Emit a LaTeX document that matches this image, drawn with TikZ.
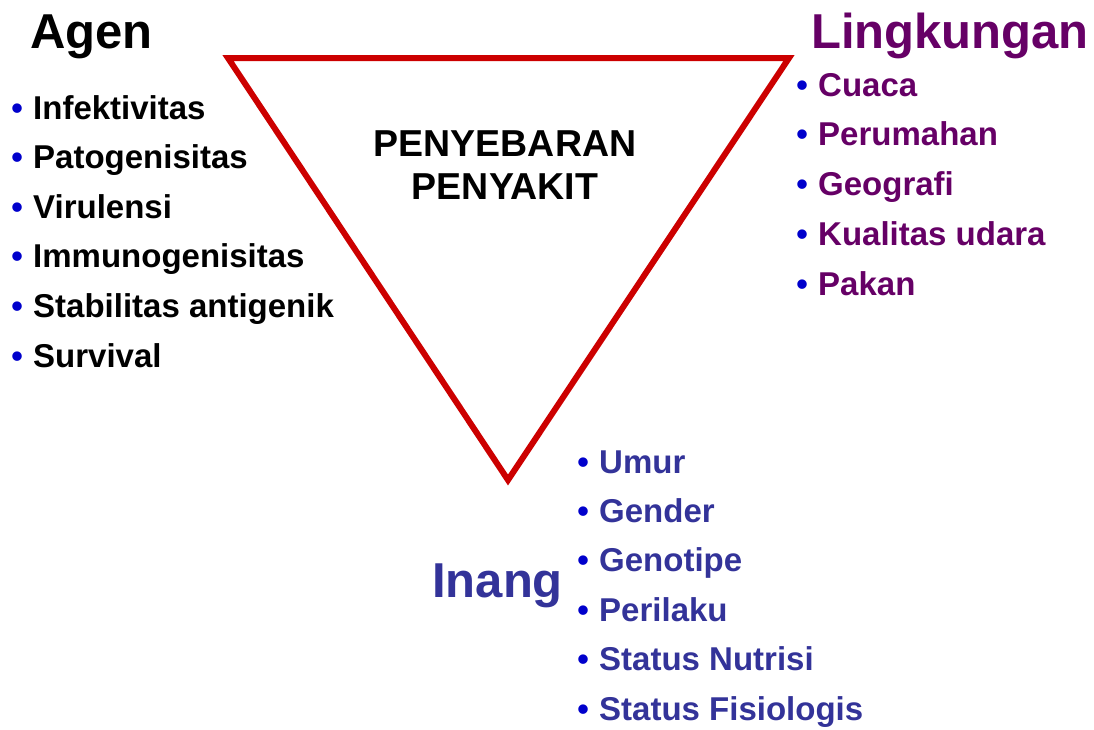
\documentclass[tikz,border=0pt]{standalone}
\usepackage{fontspec}
\setmainfont{Liberation Sans}
\definecolor{tri}{HTML}{CC0000}
\definecolor{lingk}{HTML}{660066}
\definecolor{inang}{HTML}{333399}
\definecolor{bblue}{HTML}{0000CC}
\newcommand\bul{\makebox[32pt][c]{\color{bblue}\textbullet}}
\tikzset{
  head/.style={anchor=base west, inner sep=0pt, font=\bfseries\fontsize{49}{50}\selectfont},
  item/.style={anchor=base west, inner sep=0pt, font=\bfseries\fontsize{33}{34}\selectfont},
  center/.style={inner sep=0pt, align=center, font=\bfseries\fontsize{37.5}{38}\selectfont},
  triline/.style={draw=tri, line width=6pt, line join=miter}
}
\begin{document}
\begin{tikzpicture}[x=1pt,y=-1pt]
\useasboundingbox (0,0) rectangle (1094,729);
% triangle
\coordinate (tl) at (228,58);
\coordinate (tr) at (789,58);
\coordinate (tb) at (508,480);
\draw[triline] (tl) -- (tr) -- (tb) -- cycle;
% center text
\node[center, anchor=base] (c1) at (505,156) {PENYEBARAN};
\node[center, anchor=base] (c2) at (505,199) {PENYAKIT};
% Agen
\node[head] (agen) at (30,48) {Agen};
\node[item] (a1) at (1,119) {\bul Infektivitas};
\node[item] (a2) at (1,168.6) {\bul Patogenisitas};
\node[item] (a3) at (1,218.2) {\bul Virulensi};
\node[item] (a4) at (1,267.8) {\bul Immunogenisitas};
\node[item] (a5) at (1,317.4) {\bul Stabilitas antigenik};
\node[item] (a6) at (1,367) {\bul Survival};
% Lingkungan
\node[head, text=lingk] (ling) at (811,48) {Lingkungan};
\node[item, text=lingk] (l1) at (786,96) {\bul Cuaca};
\node[item, text=lingk] (l2) at (786,145.8) {\bul Perumahan};
\node[item, text=lingk] (l3) at (786,195.6) {\bul Geografi};
\node[item, text=lingk] (l4) at (786,245.4) {\bul Kualitas udara};
\node[item, text=lingk] (l5) at (786,295.2) {\bul Pakan};
% Inang
\node[head, text=inang] (inang) at (432,597) {Inang};
\node[item, text=inang] (i1) at (567,473) {\bul Umur};
\node[item, text=inang] (i2) at (567,522.4) {\bul Gender};
\node[item, text=inang] (i3) at (567,571.8) {\bul Genotipe};
\node[item, text=inang] (i4) at (567,621.2) {\bul Perilaku};
\node[item, text=inang] (i5) at (567,670.6) {\bul Status Nutrisi};
\node[item, text=inang] (i6) at (567,720) {\bul Status Fisiologis};
\end{tikzpicture}
\end{document}
